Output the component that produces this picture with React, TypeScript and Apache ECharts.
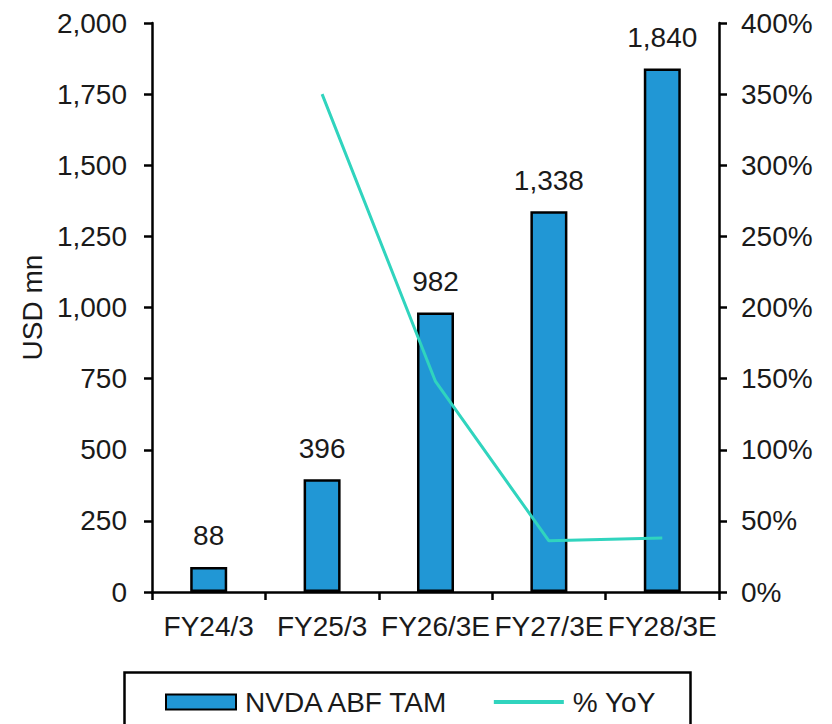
import React, { useEffect, useRef } from "react";
import * as echarts from "echarts";

const categories = ["FY24/3", "FY25/3", "FY26/3E", "FY27/3E", "FY28/3E"];
const tamValues = [88, 396, 982, 1338, 1840];
const yoyValues: (number | null)[] = [null, 350, 148, 36, 38];
const leftTicks = { min: 0, max: 2000, interval: 250 };
const rightTicks = { min: 0, max: 400, interval: 50 };

const FONT = "'Liberation Sans', Arial, sans-serif";
const TEXT = "#1a1a1a";
const BAR = "#2197d5";
const LINE = "#30d4be";

const fmt = (v: number) => v.toLocaleString("en-US");

export default function App() {
  const ref = useRef<HTMLDivElement>(null);
  useEffect(() => {
    if (!ref.current) return;
    const chart = echarts.init(ref.current, undefined, { renderer: "svg" });
    const axisLine = { show: true, lineStyle: { color: "#000", width: 2.5 } };
    const axisTick = { show: true, length: 8, lineStyle: { color: "#000", width: 2.5 } };
    chart.setOption({
      animation: false,
      textStyle: { fontFamily: FONT },
      grid: { left: 152, right: 113, top: 23, bottom: 132, containLabel: false },
      legend: {
        left: 160,
        top: 683,
        itemWidth: 70,
        itemHeight: 15,
        itemGap: 42,
        textStyle: { fontFamily: FONT, fontSize: 28, color: TEXT, padding: [0, 0, 0, 4] },
        data: [
          { name: "NVDA ABF TAM", icon: "rect" },
          { name: "% YoY", itemStyle: { opacity: 0 }, lineStyle: { color: LINE, width: 4 } },
        ],
      },
      graphic: [
        {
          type: "rect",
          left: 122,
          top: 670,
          shape: { x: 0, y: 0, width: 566, height: 120 },
          style: { fill: "none", stroke: "#000", lineWidth: 2.5 },
          silent: true,
        },
      ],
      xAxis: {
        type: "category",
        data: categories,
        axisLine,
        axisTick: { ...axisTick, alignWithLabel: false },
        axisLabel: { fontFamily: FONT, fontSize: 28, color: TEXT, margin: 20, interval: 0 },
      },
      yAxis: [
        {
          type: "value",
          ...leftTicks,
          name: "USD mn",
          nameLocation: "middle",
          nameGap: 106,
          nameTextStyle: { fontFamily: FONT, fontSize: 28, color: TEXT },
          axisLine,
          axisTick,
          splitLine: { show: false },
          axisLabel: {
            fontFamily: FONT,
            fontSize: 28,
            color: TEXT,
            margin: 25,
            formatter: (v: number) => fmt(v),
          },
        },
        {
          type: "value",
          position: "right",
          ...rightTicks,
          axisLine,
          axisTick,
          splitLine: { show: false },
          axisLabel: {
            fontFamily: FONT,
            fontSize: 28,
            color: TEXT,
            margin: 22,
            formatter: "{value}%",
          },
        },
      ],
      series: [
        {
          name: "NVDA ABF TAM",
          type: "bar",
          data: tamValues,
          barWidth: 37,
          itemStyle: { color: BAR, borderColor: "#000", borderWidth: 2.5 },
          label: {
            show: true,
            position: "top",
            distance: 17,
            fontFamily: FONT,
            fontSize: 28,
            color: TEXT,
            formatter: (p: any) => fmt(p.value),
          },
        },
        {
          name: "% YoY",
          type: "line",
          yAxisIndex: 1,
          data: yoyValues,
          symbol: "none",
          lineStyle: { color: LINE, width: 3 },
          itemStyle: { color: LINE },
        },
      ],
    });
    return () => chart.dispose();
  }, []);
  return (
    <div
      ref={ref}
      style={{ position: "absolute", left: 0, top: 0, width: 832, height: 724 }}
    />
  );
}
